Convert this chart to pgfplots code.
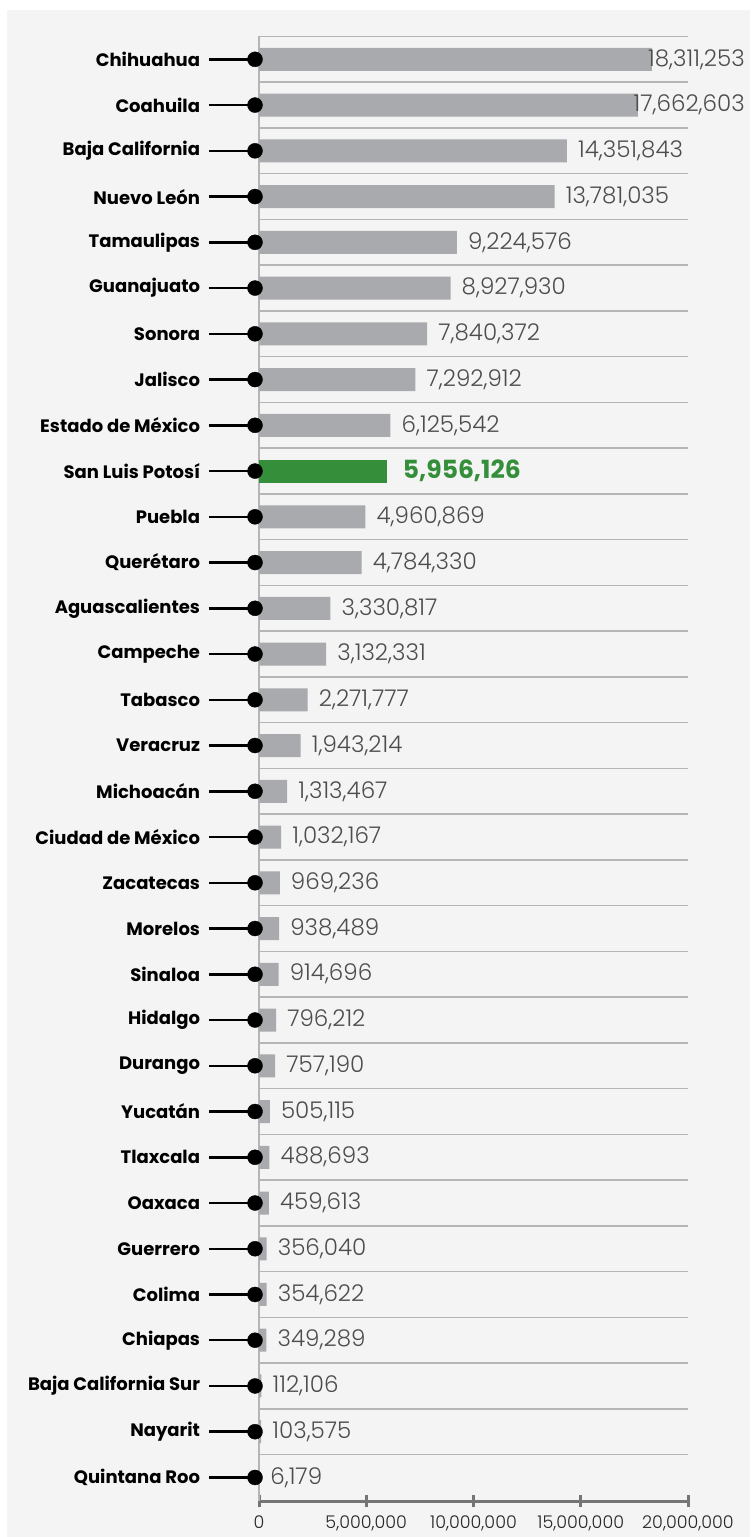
\documentclass[border=0pt]{standalone}
\usepackage{pgfplots}
\pgfplotsset{compat=1.18}
\usepackage{pgfplotstable}
\usepackage{fontspec}
\setmainfont{Poppins}
\newfontfamily\lightfont{Poppins Light}

\definecolor{fondo}{HTML}{F4F4F4}
\definecolor{barra}{HTML}{A9AAAD}
\definecolor{verde}{HTML}{348E3A}
\definecolor{rejilla}{HTML}{B5B5B5}
\definecolor{eje}{HTML}{757575}
\definecolor{texto}{HTML}{4D4D4D}

% y: posicion (31 = arriba), x: millones
\pgfplotstableread{
y x label
31 18.311253 18,311,253
30 17.662603 17,662,603
29 14.351843 14,351,843
28 13.781035 13,781,035
27 9.224576 9,224,576
26 8.927930 8,927,930
25 7.840372 7,840,372
24 7.292912 7,292,912
23 6.125542 6,125,542
21 4.960869 4,960,869
20 4.784330 4,784,330
19 3.330817 3,330,817
18 3.132331 3,132,331
17 2.271777 2,271,777
16 1.943214 1,943,214
15 1.313467 1,313,467
14 1.032167 1,032,167
13 0.969236 969,236
12 0.938489 938,489
11 0.914696 914,696
10 0.796212 796,212
9 0.757190 757,190
8 0.505115 505,115
7 0.488693 488,693
6 0.459613 459,613
5 0.356040 356,040
4 0.354622 354,622
3 0.349289 349,289
2 0.112106 112,106
1 0.103575 103,575
0 0.006179 6,179
}\grises

\pgfplotstableread{
y x label
22 5.956126 5,956,126
}\slp

% etiquetas de las dos barras mas largas, alineadas al borde derecho
\pgfplotstableread{
y x label
31 22.657 18,311,253
30 22.657 17,662,603
}\largas

\begin{document}
\begin{tikzpicture}
\fill[white] (0,0) rectangle (750pt,1537pt);
\fill[fondo] (7pt,0) rectangle (750pt,1527pt);
\begin{axis}[
  at={(259pt,35.5pt)}, anchor=south west,
  scale only axis, width=429pt, height=1465pt,
  xmin=0, xmax=20, ymin=-0.525, ymax=31.5,
  axis lines*=left,
  clip=false,
  x axis line style={draw=eje, line width=3.5pt},
  y axis line style={draw=rejilla, line width=2pt},
  tick align=outside,
  ytick={0,...,31},
  yticklabels={Quintana Roo, Nayarit, Baja California Sur, Chiapas, Colima, Guerrero, Oaxaca, Tlaxcala, Yucatán, Durango, Hidalgo, Sinaloa, Morelos, Zacatecas, Ciudad de México, Michoacán, Veracruz, Tabasco, Campeche, Aguascalientes, Querétaro, Puebla, San Luis Potosí, Estado de México, Jalisco, Sonora, Guanajuato, Tamaulipas, Nuevo León, Baja California, Coahuila, Chihuahua},
  ytick style={draw=black, line width=2.5pt, /pgfplots/major tick length=50pt},
  yticklabel style={font=\bfseries\fontsize{18}{18}\selectfont, text=black, inner sep=0pt, xshift=-54.5pt},
  xtick={0,5,10,15,20},
  xticklabels={0,{5,000,000},{10,000,000},{15,000,000},{20,000,000}},
  xtick style={draw=eje, line width=3pt, /pgfplots/major tick length=12pt, yshift=6pt},
  xticklabel style={font=\lightfont\fontsize{17.5}{17.5}\selectfont, text=black!85, inner sep=0pt, yshift=-10pt},
  extra y ticks={0.5,1.5,...,31.5},
  extra y tick labels={},
  extra y tick style={grid=major, major grid style={draw=rejilla, line width=1.5pt},
    ytick style={draw=none, /pgfplots/major tick length=0pt}},
]
\addplot[xbar, bar width=23pt, bar shift=0pt, fill=barra, draw=none] table[x=x, y=y] {\grises};
\addplot[xbar, bar width=23pt, bar shift=0pt, fill=verde, draw=none] table[x=x, y=y] {\slp};

\addplot[draw=none, mark=none, nodes near coords, point meta=explicit symbolic,
  skip coords between index={0}{2},
  every node near coord/.append style={anchor=west, inner sep=0pt, xshift=11pt,
    font=\lightfont\fontsize{23}{23}\selectfont, text=texto}]
  table[x=x, y=y, meta=label] {\grises};
\addplot[draw=none, mark=none, nodes near coords, point meta=explicit symbolic,
  every node near coord/.append style={anchor=east, inner sep=0pt,
    font=\lightfont\fontsize{23}{23}\selectfont, text=texto}]
  table[x=x, y=y, meta=label] {\largas};
\addplot[draw=none, mark=none, nodes near coords, point meta=explicit symbolic,
  every node near coord/.append style={anchor=west, inner sep=0pt, xshift=16pt,
    font=\bfseries\fontsize{25}{25}\selectfont, text=verde}]
  table[x=x, y=y, meta=label] {\slp};

\addplot[only marks, mark=*, mark size=7.5pt, mark options={draw=black, fill=black}] coordinates {
(-0.186,0) (-0.186,1) (-0.186,2) (-0.186,3) (-0.186,4) (-0.186,5) (-0.186,6) (-0.186,7)
(-0.186,8) (-0.186,9) (-0.186,10) (-0.186,11) (-0.186,12) (-0.186,13) (-0.186,14) (-0.186,15)
(-0.186,16) (-0.186,17) (-0.186,18) (-0.186,19) (-0.186,20) (-0.186,21) (-0.186,22) (-0.186,23)
(-0.186,24) (-0.186,25) (-0.186,26) (-0.186,27) (-0.186,28) (-0.186,29) (-0.186,30) (-0.186,31)
};
\end{axis}
\pgfresetboundingbox
\useasboundingbox (0,0) rectangle (750pt,1537pt);
\end{tikzpicture}
\end{document}
